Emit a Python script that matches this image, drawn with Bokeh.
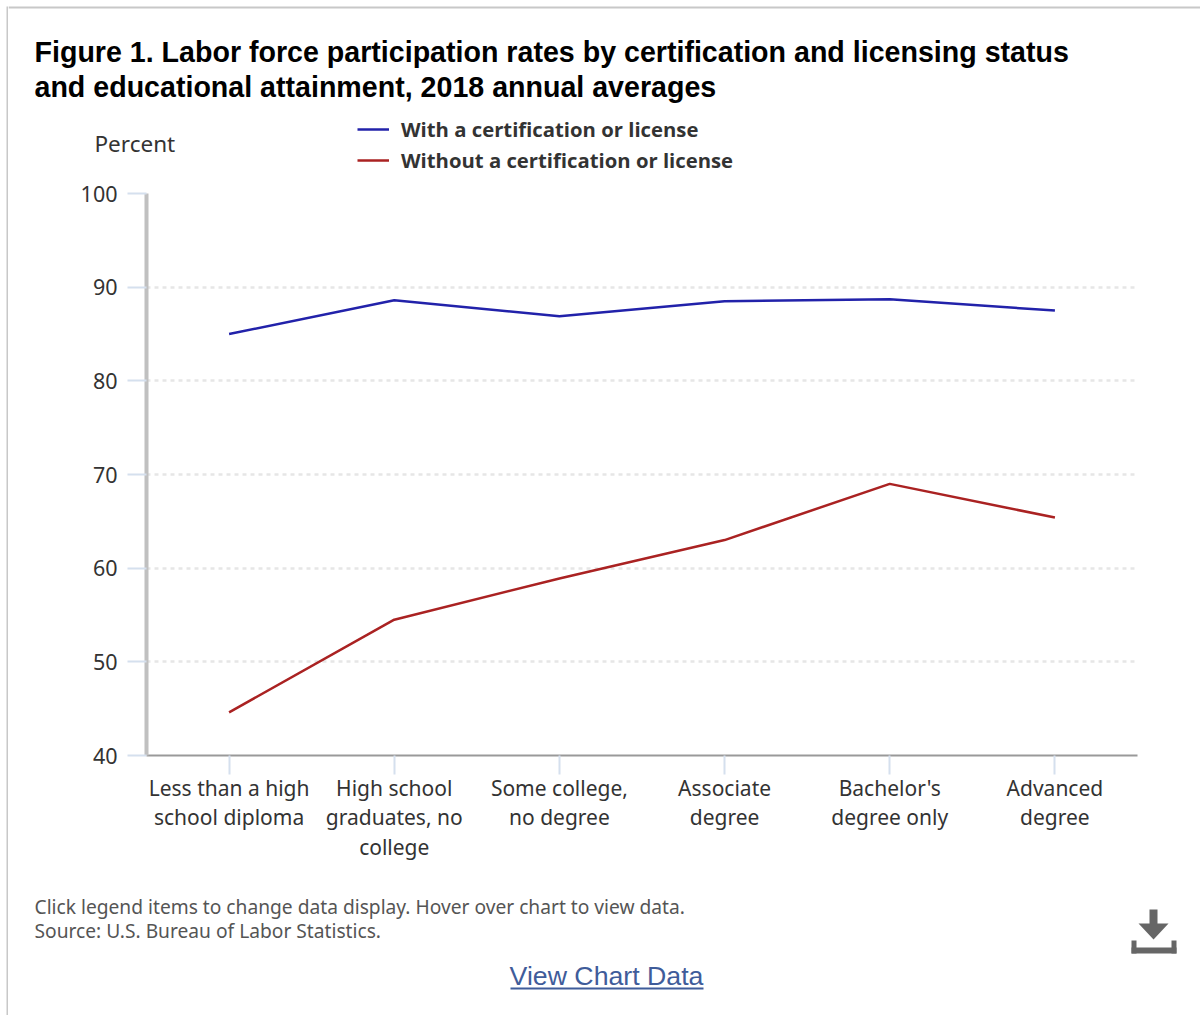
from bokeh.embed import file_html
from bokeh.layouts import column, row
from bokeh.models import BoxAnnotation, FactorRange, Label, Legend, LegendItem, Range1d
from bokeh.plotting import figure
from bokeh.resources import INLINE

# Annual averages, 2018
categories = ["Less than a high\nschool diploma", "High school\ngraduates, no\ncollege",
              "Some college,\nno degree", "Associate\ndegree",
              "Bachelor's\ndegree only", "Advanced\ndegree"]
with_credential = [85.0, 88.6, 86.9, 88.5, 88.7, 87.5]
without_credential = [44.6, 54.5, 58.9, 63.0, 69.0, 65.4]
y_ticks = [40, 50, 60, 70, 80, 90, 100]
series_names = ["With a certification or license", "Without a certification or license"]
series_colors = ["#2222aa", "#aa2222"]

STRIP = 8
HEAD_H, CHART_H, FOOT_H = 175, 690, 150
PANEL_W = 1200 - STRIP
BODY = "Noto Sans"
INK = "#333333"


def panel(width, height):
    """A bare figure whose data coordinates are its own pixels, y growing downwards."""
    fig = figure(width=width, height=height, x_range=Range1d(0, width), y_range=Range1d(height, 0),
                 x_axis_location=None, y_axis_location=None, output_backend="svg",
                 toolbar_location=None, min_border=0, outline_line_color=None, frame_align=False)
    fig.grid.visible = False
    return fig


def text(fig, x, y, s, size, color=INK, font=BODY, style="normal", align="left"):
    fig.add_layout(Label(x=x, y=y, text=s, text_font=font, text_font_size=size, text_color=color,
                         text_font_style=style, text_align=align, text_baseline="middle"))


def box(fig, left, right, top, bottom, color):
    fig.add_layout(BoxAnnotation(left=left, right=right, top=top, bottom=bottom,
                                 fill_color=color, fill_alpha=1, line_color=None))


# Page edge, left side
strip = panel(STRIP, HEAD_H + CHART_H + FOOT_H)
box(strip, 6, 8, 6, HEAD_H + CHART_H + FOOT_H, "#c8c8c8")

# Heading, unit and legend
head = panel(PANEL_W, HEAD_H)
box(head, 0, PANEL_W, 6, 8, "#c8c8c8")
text(head, 34 - STRIP, 51.5, "Figure 1. Labor force participation rates by certification and licensing status",
     "28.6px", "#000000", "Liberation Sans", "bold")
text(head, 34 - STRIP, 86.5, "and educational attainment, 2018 annual averages",
     "28.6px", "#000000", "Liberation Sans", "bold")
text(head, 94 - STRIP, 143, "Percent", "22.5px")

# Legend keys take their style from lines parked outside the visible range
keys = [head.line([-20, -10], [-20, -20], line_color=c, line_width=2.5) for c in series_colors]
head.add_layout(Legend(items=[LegendItem(label=n, renderers=[k]) for n, k in zip(series_names, keys)],
                       location=(349, 1), orientation="vertical", border_line_color=None,
                       background_fill_alpha=0, margin=0, padding=0, spacing=3,
                       glyph_width=32, glyph_height=26, label_standoff=12,
                       label_text_font="Open Sans", label_text_font_style="bold",
                       label_text_font_size="20.3px", label_text_color=INK))

# The chart itself
p = figure(width=PANEL_W, height=CHART_H, x_range=FactorRange(factors=categories, range_padding=0),
           y_range=Range1d(40, 100), output_backend="svg", toolbar_location=None, frame_align=False,
           min_border_left=146 - STRIP, min_border_right=63, min_border_top=18, min_border_bottom=110,
           background_fill_color="white", border_fill_color="white", outline_line_color=None)

p.yaxis.ticker = y_ticks
p.yaxis.axis_line_color = "#c0c0c0"
p.yaxis.axis_line_width = 4
p.yaxis.major_tick_line_color = "#d5e0ee"
p.yaxis.major_tick_line_width = 2
p.yaxis.major_tick_out = 19
p.yaxis.major_tick_in = 0
p.yaxis.minor_tick_line_color = None
p.yaxis.major_label_standoff = 10
p.yaxis.major_label_text_font = BODY
p.yaxis.major_label_text_font_size = "21.5px"
p.yaxis.major_label_text_color = INK

p.xaxis.axis_line_color = "#999999"
p.xaxis.axis_line_width = 2
p.xaxis.major_tick_line_color = "#d5e0ee"
p.xaxis.major_tick_line_width = 2
p.xaxis.major_tick_out = 19
p.xaxis.major_tick_in = 0
p.xaxis.minor_tick_line_color = None
p.xaxis.major_label_standoff = -1
p.xaxis.major_label_orientation = "horizontal"
p.xaxis.major_label_text_font = BODY
p.xaxis.major_label_text_font_size = "21px"
p.xaxis.major_label_text_color = INK
p.xaxis.major_label_text_line_height = 1.07

p.xgrid.grid_line_color = None
p.ygrid.ticker = y_ticks
p.ygrid.grid_line_color = "#e6e6e6"
p.ygrid.grid_line_width = 2.5
p.ygrid.grid_line_dash = "4 4"

for values, color in zip([with_credential, without_credential], series_colors):
    p.line(categories, values, line_color=color, line_width=2.5)

# Notes, data link and download icon
foot = panel(PANEL_W, FOOT_H)
TOP = HEAD_H + CHART_H
text(foot, 34 - STRIP, 906 - TOP, "Click legend items to change data display. Hover over chart to view data.",
     "19.2px", "#555555")
text(foot, 34 - STRIP, 930 - TOP, "Source: U.S. Bureau of Labor Statistics.", "19.2px", "#555555")
text(foot, 606 - STRIP, 975 - TOP, "View Chart Data", "26.7px", "#3f5c9a", "Liberation Sans", align="center")
box(foot, 510 - STRIP, 703 - STRIP, 987 - TOP, 989 - TOP, "#3f5c9a")

ICON = "#666666"
box(foot, 1149 - STRIP, 1157 - STRIP, 909 - TOP, 925 - TOP, ICON)
foot.patch([1138 - STRIP, 1168 - STRIP, 1153 - STRIP], [923 - TOP, 923 - TOP, 939 - TOP],
           fill_color=ICON, line_color=None)
box(foot, 1131 - STRIP, 1176 - STRIP, 947 - TOP, 953 - TOP, ICON)
box(foot, 1131 - STRIP, 1136 - STRIP, 940 - TOP, 953 - TOP, ICON)
box(foot, 1171 - STRIP, 1176 - STRIP, 940 - TOP, 953 - TOP, ICON)

page = row(strip, column(head, p, foot, spacing=0), spacing=0)
open("out.html", "w").write(file_html(page, INLINE))
